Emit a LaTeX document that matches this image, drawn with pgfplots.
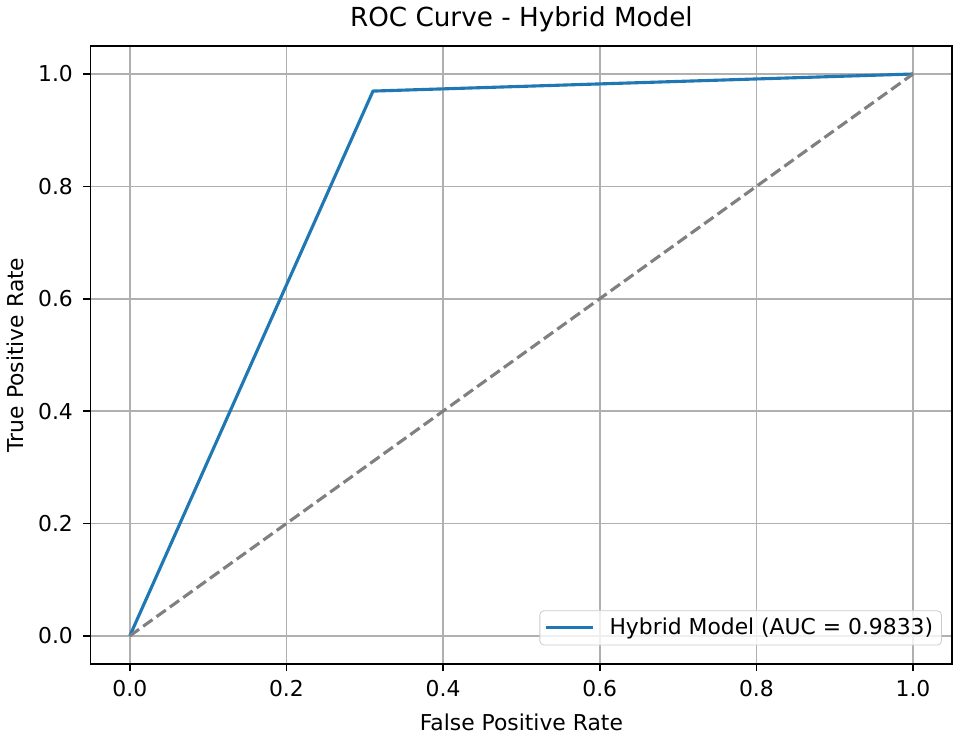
\documentclass[border=0pt]{standalone}
\usepackage{fontspec}
\setmainfont{DejaVu Sans}
\usepackage{pgfplots}
\pgfplotsset{compat=1.18}
\definecolor{mplblue}{HTML}{1F77B4}
\definecolor{gridgray}{HTML}{B0B0B0}
\begin{document}
\begin{tikzpicture}
\begin{axis}[
  scale only axis,
  width=414pt, height=297pt,
  xmin=-0.05, xmax=1.05, ymin=-0.05, ymax=1.05,
  xtick={0,0.2,...,1.0}, ytick={0,0.2,...,1.0},
  xticklabel style={yshift=-1pt,/pgf/number format/.cd,fixed,fixed zerofill,precision=1},
  yticklabel style={xshift=-1.5pt,/pgf/number format/.cd,fixed,fixed zerofill,precision=1},
  /pgf/number format/assume math mode=true,
  tick label style={font=\fontsize{10.5}{12.6}\selectfont},
  label style={font=\fontsize{10.5}{12.6}\selectfont},
  xlabel style={yshift=-1pt},
  title style={font=\fontsize{12.6}{15}\selectfont, yshift=-3pt},
  title={ROC Curve - Hybrid Model},
  xlabel={False Positive Rate},
  ylabel={True Positive Rate},
  tick align=outside, tick pos=left,
  major tick length=3.5pt,
  every tick/.style={black, line width=0.8pt},
  axis line style={line width=0.8pt},
  grid=major,
  major grid style={gridgray, line width=0.8pt},
  legend style={font=\fontsize{10.5}{12.6}\selectfont, draw=black!20, rounded corners=2pt,
    fill=white, fill opacity=0.8, text opacity=1, inner xsep=2pt, inner ysep=1.5pt,
    at={(0.988,0.03)}, anchor=south east,
    /tikz/every odd column/.append style={column sep=5pt}},
  legend cell align=left,
  legend image code/.code={\draw[#1] (0pt,0pt) -- (23pt,0pt);},
]
\addplot[mplblue, line width=1.5pt] coordinates {(0,0) (0.3105,0.9696) (1,1)};
\addlegendentry{Hybrid Model (AUC = 0.9833)}
\addplot[gray, line width=1.5pt, dash pattern=on 5.5pt off 2.4pt, forget plot] coordinates {(0,0) (1,1)};
\end{axis}
\end{tikzpicture}
\end{document}
